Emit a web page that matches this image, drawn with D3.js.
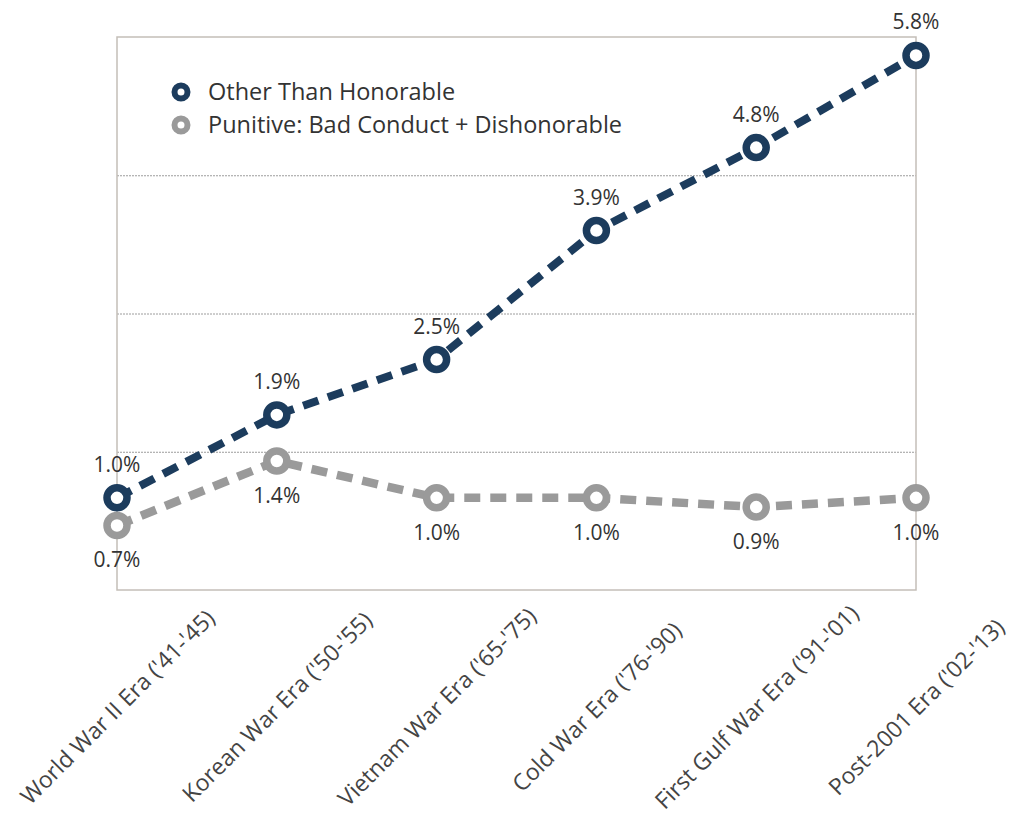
<!DOCTYPE html>
<html>
<head>
<meta charset="utf-8">
<script src="https://cdn.jsdelivr.net/npm/d3@7"></script>
<style>
  body { margin: 0; background: #fff; }
  svg text { font-family: "Open Sans", Lato, sans-serif; fill: #333; }
</style>
</head>
<body>
<div class="container"></div>
<script>
var eras = ["World War II Era ('41-'45)", "Korean War Era ('50-'55)", "Vietnam War Era ('65-'75)",
            "Cold War Era ('76-'90)", "First Gulf War Era ('91-'01)", "Post-2001 Era ('02-'13)"];
var otherThanHonorable = [1.0, 1.9, 2.5, 3.9, 4.8, 5.8];
var punitive = [0.7, 1.4, 1.0, 1.0, 0.9, 1.0];
var seriesNames = ["Other Than Honorable", "Punitive: Bad Conduct + Dishonorable"];
var gridTicks = [1.5, 3.0, 4.5];

var loadChart = function(){
    var width = 1011, height = 820;
    var left = 117, right = 916, top = 37, bottom = 590;
    var navy = '#1c3c5d', grey = '#9a9a9a';

    var svg = d3.select('.container')
                .append('svg')
                .attr('width', width)
                .attr('height', height);

    var x = d3.scalePoint().domain(eras).range([left, right]).padding(0);
    var y = d3.scaleLinear().domain([0, 6]).range([bottom, top]);

    // dotted gridlines
    var grid = svg.append('g')
        .attr('transform', 'translate(' + left + ',0)')
        .call(d3.axisLeft(y).tickValues(gridTicks).tickSize(-(right - left)).tickFormat(''));
    grid.select('.domain').remove();
    grid.selectAll('.tick line')
        .attr('stroke', '#9c9c9c')
        .attr('stroke-width', 1)
        .attr('stroke-dasharray', '2,1');

    // frame
    svg.append('rect')
        .attr('x', left)
        .attr('y', top)
        .attr('width', right - left)
        .attr('height', bottom - top)
        .attr('fill', 'none')
        .attr('stroke', '#c4beb8')
        .attr('stroke-width', 1.5);

    // x axis labels
    var xAxis = svg.append('g')
        .attr('transform', 'translate(0,' + bottom + ')')
        .call(d3.axisBottom(x).tickSize(0));
    xAxis.select('.domain').remove();
    xAxis.attr('font-family', null).attr('font-size', null);
    xAxis.selectAll('.tick text')
        .attr('x', 0)
        .attr('y', 0)
        .attr('dy', '0.35em')
        .attr('text-anchor', 'middle')
        .attr('transform', 'translate(0,117) rotate(-45)')
        .style('font-size', '23px')
        .style('fill', '#444');

    var series = [
        {name: seriesNames[1], values: punitive, color: grey, width: 8.5, below: true},
        {name: seriesNames[0], values: otherThanHonorable, color: navy, width: 8, below: false}
    ];

    var line = d3.line()
        .x(function(d, i) { return x(eras[i]); })
        .y(function(d) { return y(d); });

    series.forEach(function(s) {
        svg.append('path')
            .datum(s.values)
            .attr('d', line)
            .attr('fill', 'none')
            .attr('stroke', s.color)
            .attr('stroke-width', s.width)
            .attr('stroke-dasharray', '16,10');

        svg.selectAll(null)
            .data(s.values)
            .enter()
            .append('circle')
            .attr('cx', function(d, i) { return x(eras[i]); })
            .attr('cy', function(d) { return y(d); })
            .attr('r', 10)
            .attr('fill', '#fff')
            .attr('stroke', s.color)
            .attr('stroke-width', 7.5);

        svg.selectAll(null)
            .data(s.values)
            .enter()
            .append('text')
            .attr('x', function(d, i) { return x(eras[i]); })
            .attr('y', function(d) { return y(d) + (s.below ? 42 : -26); })
            .attr('text-anchor', 'middle')
            .style('font-size', '21px')
            .text(function(d) { return d.toFixed(1) + '%'; });
    });

    // legend
    var legend = svg.append('g').attr('transform', 'translate(181,92)');
    [{name: seriesNames[0], color: navy}, {name: seriesNames[1], color: grey}].forEach(function(d, i) {
        legend.append('circle')
            .attr('cx', 0)
            .attr('cy', i * 33)
            .attr('r', 6.5)
            .attr('fill', '#fff')
            .attr('stroke', d.color)
            .attr('stroke-width', 6);
        legend.append('text')
            .attr('x', 27)
            .attr('y', i * 33 + 8)
            .style('font-size', '23.5px')
            .text(d.name);
    });
}
window.onload = loadChart;
</script>
</body>
</html>
